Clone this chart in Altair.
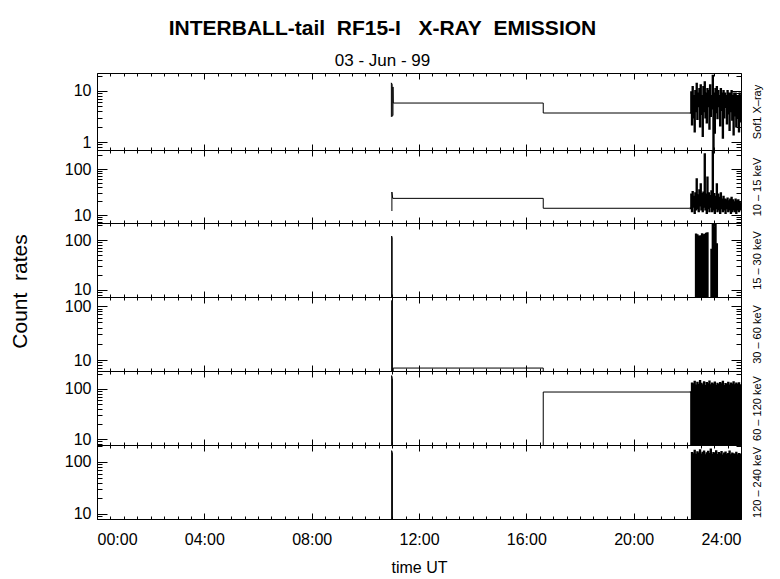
import altair as alt
import pandas as pd

FONT = "Liberation Sans"

# ---------------- data (hours UT, count rates) ----------------
t_burst = [22.100, 22.125, 22.150, 22.175, 22.200, 22.225, 22.250, 22.275, 22.300, 22.325,
           22.350, 22.375, 22.400, 22.425, 22.450, 22.475, 22.500, 22.525, 22.550, 22.575,
           22.600, 22.625, 22.650, 22.675, 22.700, 22.725, 22.750, 22.775, 22.800, 22.825,
           22.850, 22.875, 22.900, 22.925, 22.950, 22.975, 23.000, 23.025, 23.050, 23.075,
           23.100, 23.125, 23.150, 23.175, 23.200, 23.225, 23.250, 23.275, 23.300, 23.325,
           23.350, 23.375, 23.400, 23.425, 23.450, 23.475, 23.500, 23.525, 23.550, 23.575,
           23.600, 23.625, 23.650, 23.675, 23.700, 23.725, 23.750, 23.775, 23.800, 23.825,
           23.850, 23.875, 23.900, 23.925, 23.950, 23.975, 24.000]

# panel 1: Sof1 X-ray
p1_head_t = [10.97, 10.97, 11.00, 11.00, 11.03, 11.03, 11.04, 16.63, 16.63, 22.08]
p1_head_v = [3.1, 14.4, 13.5, 3.2, 3.3, 12.0, 5.8, 5.8, 3.7, 3.7]
p1_burst = [3.7, 3.7, 9.5, 2.2, 12, 3.0, 8.0, 1.6, 10, 4.0,
            14, 2.8, 9.0, 5.0, 11, 2.0, 13, 3.5, 8.0, 1.3,
            12, 4.0, 15, 3.0, 9.0, 2.4, 11, 5.0, 10, 1.8,
            13, 3.2, 8.0, 4.5, 20, 0.5, 9.0, 1.5, 11, 3.8,
            12, 2.9, 10, 5.0, 8.0, 2.1, 11, 4.2, 9.0, 1.2,
            10, 3.0, 9.0, 4.8, 8.0, 2.3, 10, 3.6, 9.0, 1.7,
            9.0, 4.0, 10, 2.7, 8.0, 1.4, 9.0, 3.3, 9.0, 2.0,
            8.0, 3.0, 8.0, 1.6, 9.0, 2.5, 8.0]

# panel 2: 10 - 15 keV
p2_head_t = [10.99, 10.99, 11.02, 16.63, 16.63, 22.08]
p2_head_v = [12.2, 31.6, 23, 23, 14, 14]
p2_burst = [14, 14, 28, 12, 32, 15, 25, 11, 30, 13,
            60, 14, 27, 12, 35, 16, 47, 13, 29, 12,
            31, 15, 212, 13, 28, 11, 66, 14, 30, 12,
            26, 15, 33, 12, 300, 13, 29, 11, 25, 14,
            47, 12, 28, 13, 24, 11, 30, 14, 22, 12,
            25, 13, 22, 11, 21, 14, 23, 12, 20, 13,
            22, 11, 24, 12, 21, 13, 19, 12, 22, 11,
            20, 13, 21, 12, 19, 13, 18]

# panel 3: 15 - 30 keV
p3_head_t = [10.98, 10.98, 11.00, 11.00, 11.03]
p3_head_v = [1, 120, 110, 1, 1]
p3_burst = [1, 1, 1, 1, 1, 1, 1, 1, 1,
            130, 1, 125, 1, 118,
            1, 1,
            120, 1, 132, 1, 125, 1, 128, 1, 135, 1, 138,
            1, 1, 1, 1, 1,
            64, 1, 250, 1, 180, 1, 200, 1, 83,
            1, 1, 1, 1, 1, 1, 1, 1, 1, 1, 1, 1, 1, 1, 1, 1, 1, 1,
            1, 1, 1, 1, 1, 1, 1, 1, 1, 1, 1, 1, 1, 1, 1, 1, 1, 1]

# panel 4: 30 - 60 keV
p4_head_t = [10.98, 10.98, 11.01, 11.01, 11.04, 16.63, 16.63, 24.0]
p4_head_v = [1, 125, 130, 1, 7.1, 7.1, 1, 1]
p4_burst = []

# panel 5: 60 - 120 keV
p5_head_t = [10.98, 10.98, 11.01, 11.01, 16.63, 16.63, 22.08]
p5_head_v = [1, 185, 160, 1, 1, 87, 87]
p5_burst = [87, 87,
            2, 130, 2, 125, 2, 140, 2, 118, 2, 135,
            2, 122, 2, 145, 2, 128, 2, 120, 2, 138,
            2, 115, 2, 132, 2, 126, 2, 142, 2, 119,
            2, 130, 2, 124, 2, 136, 2, 117, 2, 128,
            2, 121, 2, 133, 2, 125, 2, 140, 2, 116,
            2, 127, 2, 122, 2, 135, 2, 118, 2, 130,
            2, 124, 2, 137, 2, 120, 2, 129, 2, 123,
            2, 131, 2, 119, 2]

# panel 6: 120 - 240 keV
p6_head_t = [10.98, 10.98, 11.01, 11.01, 22.08]
p6_head_v = [1, 165, 150, 1, 1]
p6_burst = [1, 1,
            1, 150, 1, 142, 1, 165, 1, 138, 1, 155,
            1, 147, 1, 170, 1, 140, 1, 152, 1, 160,
            1, 136, 1, 148, 1, 158, 1, 143, 1, 175,
            1, 139, 1, 150, 1, 145, 1, 162, 1, 137,
            1, 149, 1, 141, 1, 156, 1, 134, 1, 146,
            1, 153, 1, 138, 1, 144, 1, 160, 1, 135,
            1, 147, 1, 142, 1, 139, 1, 151, 1, 136,
            1, 144, 1, 140, 1]

heads_t = [p1_head_t, p2_head_t, p3_head_t, p4_head_t, p5_head_t, p6_head_t]
heads_v = [p1_head_v, p2_head_v, p3_head_v, p4_head_v, p5_head_v, p6_head_v]
bursts = [p1_burst, p2_burst, p3_burst, p4_burst, p5_burst, p6_burst]

channel_labels = ["Sof1 X\u2013ray", "10 \u2013 15 keV", "15 \u2013 30 keV",
                  "30 \u2013 60 keV", "60 \u2013 120 keV", "120 \u2013 240 keV"]
y_domains = [[0.697, 22.5], [6.7, 259], [7.24, 219], [6.26, 147], [7.59, 229], [8.0, 212]]
y_label_values = [[1, 10], [10, 100], [10, 100], [10, 100], [10, 100], [10, 100]]
x_label_values = [0, 4, 8, 12, 16, 20, 24]

# ---------------- layout ----------------
W = 644
HEIGHTS = [77, 73, 74, 74, 74, 74]

x_ticks = [h / 2 for h in range(0, 49)]
X_DASH = {"condition": {"test": "datum.value % 4 === 0", "value": [20, 1]}, "value": [3, 20]}
Y_DASH = {"condition": {"test": "abs(log(datum.value)/LN10 - round(log(datum.value)/LN10)) < 0.001",
                        "value": [20, 1]}, "value": [5, 20]}


def log_ticks(lo, hi):
    out = []
    for d in range(-2, 4):
        for m in range(1, 10):
            v = m * 10 ** d
            if lo <= v <= hi:
                out.append(v)
    return out


def tick_axis(orient, offset, values, size, dash, title=None, **kw):
    return alt.Axis(orient=orient, offset=offset, values=values, labels=False, grid=False,
                    domain=True, domainColor="black", domainWidth=1,
                    ticks=True, tickColor="black", tickWidth=1, tickSize=size, tickDash=dash,
                    title=title, **kw)


def panel(k):
    nh = len(heads_t[k])
    nb = len(bursts[k])
    t = heads_t[k] + t_burst[:nb]
    v = heads_v[k] + bursts[k]
    part = ["head"] * nh + ["burst"] * nb
    df = pd.DataFrame({"t": t, "v": v, "i": list(range(len(t))), "part": part})
    h = HEIGHTS[k]
    xs = alt.Scale(domain=[0, 24], nice=False, zero=False)
    ys = alt.Scale(type="log", domain=y_domains[k], nice=False)
    yt = log_ticks(*y_domains[k])
    base = alt.Chart(df)

    # layer 1: data + top edge ticks + left labels
    if k == 2:
        ylab = alt.Axis(orient="left", values=y_label_values[k], ticks=False, tickSize=0, domain=False,
                        grid=False, labelFontSize=16, labelPadding=6, format="d",
                        title="Count\u00a0\u00a0rates", titleFontSize=21, titleFontWeight="normal",
                        titleAngle=270, titleX=-77, titleY=68, titleAlign="center",
                        titleBaseline="middle")
    else:
        ylab = alt.Axis(orient="left", values=y_label_values[k], ticks=False, tickSize=0, domain=False,
                        grid=False, labelFontSize=16, labelPadding=6, format="d", title=None)
    l1 = base.transform_filter(alt.datum.part == "head").mark_line(
        color="black", strokeWidth=1, clip=True).encode(
        x=alt.X("t:Q", scale=xs, axis=tick_axis("bottom", -h, x_ticks, 6, X_DASH)),
        y=alt.Y("v:Q", scale=ys, axis=ylab),
        order=alt.Order("i:Q"),
    )
    # layer 2: burst data + bottom edge ticks + left edge ticks
    l2 = base.transform_filter(alt.datum.i >= nh - 1).mark_line(
        color="black", strokeWidth=1.7, clip=True, interpolate="step").encode(
        x=alt.X("t:Q", scale=xs, axis=tick_axis("top", -h, x_ticks, 6, X_DASH)),
        y=alt.Y("v:Q", scale=ys, axis=tick_axis("right", -W, yt, 10, Y_DASH)),
        order=alt.Order("i:Q"),
    )
    # layer 3: right edge ticks + channel label (+ time labels on last panel)
    if k == 5:
        xax = alt.Axis(orient="bottom", values=x_label_values, ticks=False, tickSize=0, domain=False,
                       grid=False, labelFontSize=16, labelPadding=12,
                       labelExpr="(datum.value < 10 ? '0' : '') + datum.value + ':00'",
                       title="time UT", titleFontSize=16, titleFontWeight="normal", titlePadding=12)
    else:
        xax = None
    l3 = base.mark_line(strokeOpacity=0, clip=True).encode(
        x=alt.X("t:Q", scale=xs, axis=xax),
        y=alt.Y("v:Q", scale=ys, axis=tick_axis("left", -W, yt, 10, Y_DASH,
                                                 title=channel_labels[k], titleFontSize=11,
                                                 titleFontWeight="normal", titleAngle=270,
                                                 titleX=16, titleY=h / 2, titleAlign="center",
                                                 titleBaseline="middle")),
        order=alt.Order("i:Q"),
    )
    return alt.layer(l1, l2, l3).resolve_axis(x="independent", y="independent").properties(
        width=W, height=h)


chart = alt.vconcat(*[panel(k) for k in range(6)], spacing=0, bounds="flush").properties(
    title=alt.TitleParams(
        text="INTERBALL-tail\u00a0\u00a0RF15-I\u00a0\u00a0\u00a0X-RAY\u00a0\u00a0EMISSION",
        subtitle="03 - Jun - 99",
        font=FONT, fontSize=21, fontWeight="bold", color="black",
        subtitleFont=FONT, subtitleFontSize=17, subtitleColor="black",
        anchor="middle", frame="bounds", dx=-3, offset=4, subtitlePadding=14),
    padding={"left": 1, "top": 9, "right": 5, "bottom": 5},
    background="white",
).configure_view(stroke=None).configure_axis(
    labelFont=FONT, titleFont=FONT, labelColor="black", titleColor="black")

chart.save("out.html", embed_options={"renderer": "svg", "actions": False})
